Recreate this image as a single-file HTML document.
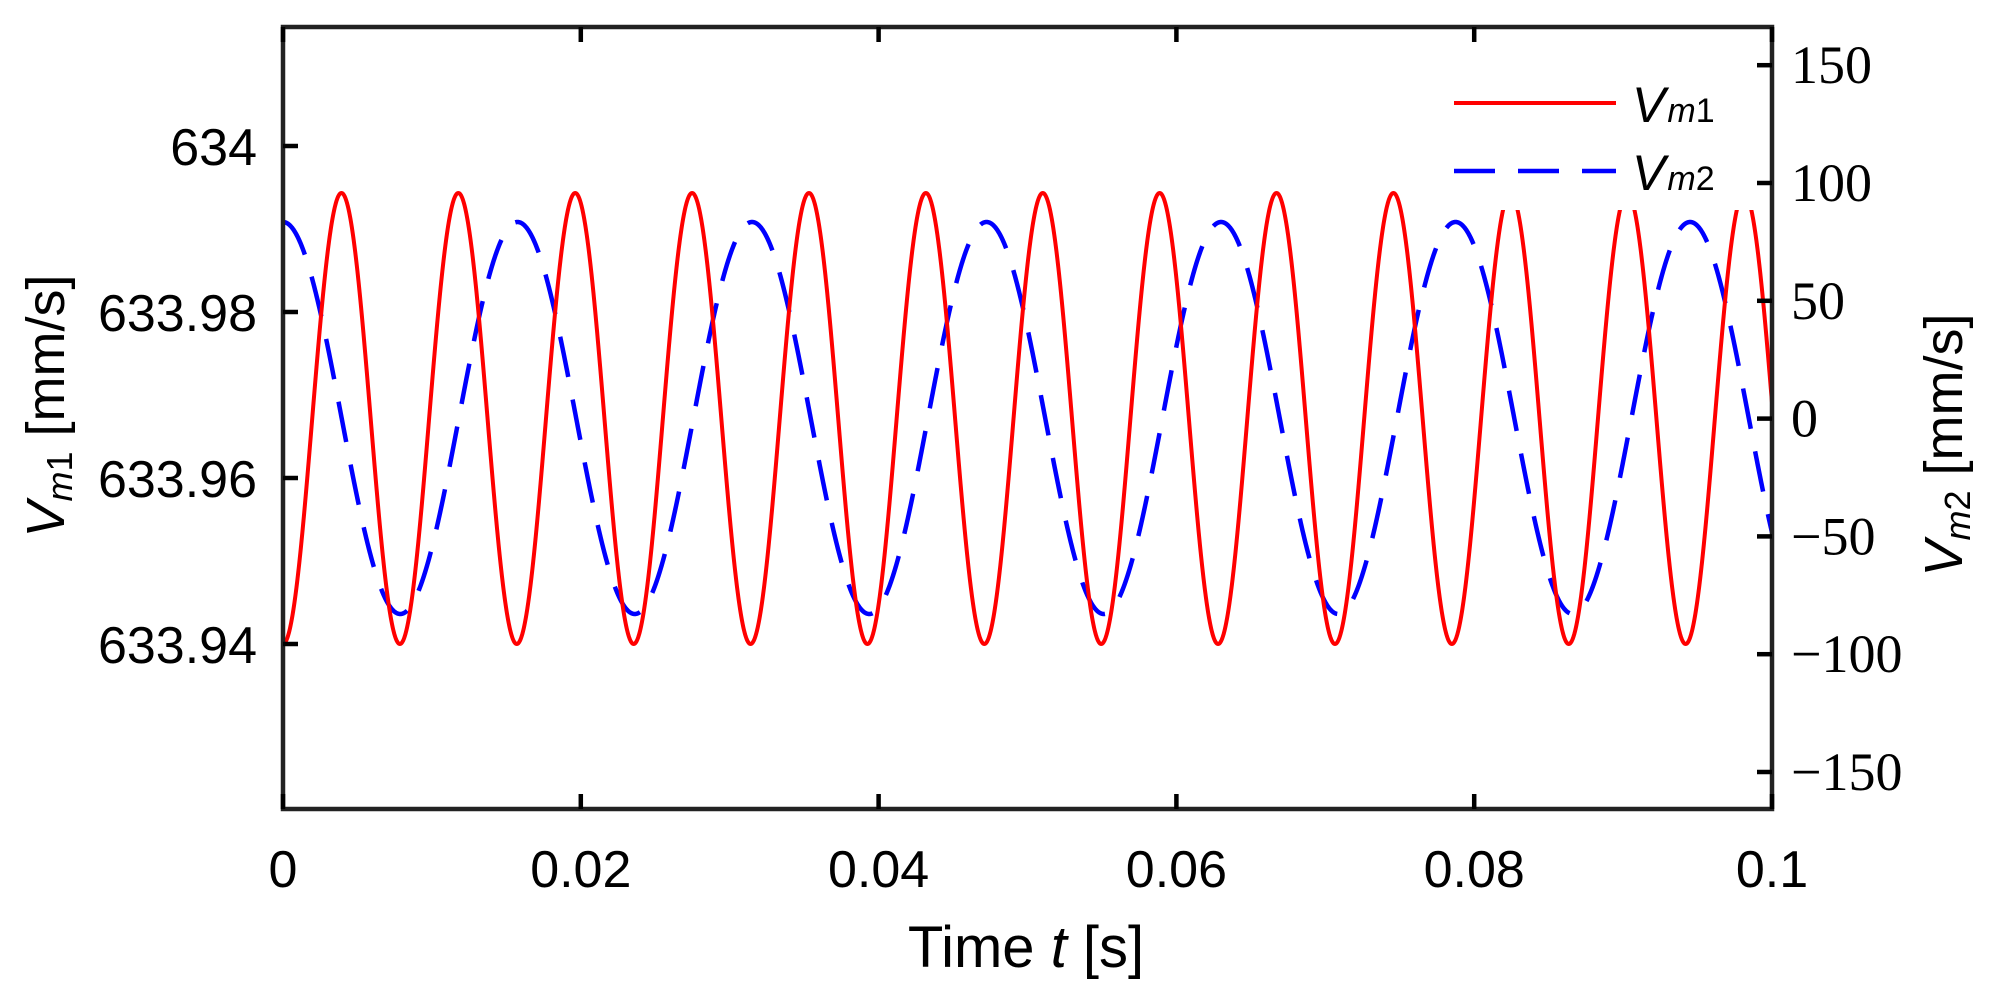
<!DOCTYPE html>
<html><head><meta charset="utf-8"><style>
html,body{margin:0;padding:0;background:#fff;}
svg{display:block;}
text{font-family:"Liberation Sans",sans-serif;fill:#000;}
.s{font-family:"Liberation Serif",serif;}
</style></head><body>
<svg id="c" width="1992" height="993" viewBox="0 0 1992 993" xmlns="http://www.w3.org/2000/svg">
<defs><clipPath id="cp"><rect x="283" y="27" width="1489" height="782"/></clipPath></defs>
<g clip-path="url(#cp)">
<path id="blue" fill="none" stroke="#0000ff" stroke-width="4.5" stroke-dasharray="41,23"/>
<path id="red" fill="none" stroke="#ff0000" stroke-width="4"/>
</g>
<rect x="1440" y="30" width="328" height="180" fill="#fff"/>
<line x1="1454" y1="103" x2="1616" y2="103" stroke="#ff0000" stroke-width="4"/>
<line x1="1454" y1="171" x2="1616" y2="171" stroke="#0000ff" stroke-width="4.5" stroke-dasharray="41,23"/>
<text x="1632" y="122" font-size="50" font-style="italic">V<tspan font-size="34" dx="2">m</tspan><tspan font-size="34" font-style="normal">1</tspan></text>
<text x="1632" y="190" font-size="50" font-style="italic">V<tspan font-size="34" dx="2">m</tspan><tspan font-size="34" font-style="normal">2</tspan></text>
<g id="axes" stroke="#000" stroke-width="4.5" fill="none">
<rect x="283" y="27" width="1489" height="782" stroke="#222"/>
</g>
<g id="labels"></g>
<text x="1026" y="967" font-size="58" text-anchor="middle">Time <tspan font-style="italic">t</tspan> [s]</text>
<text transform="translate(64,406) rotate(-90)" font-size="54" text-anchor="middle"><tspan font-style="italic">V</tspan><tspan font-size="36" dy="8" font-style="italic">m</tspan><tspan font-size="36">1</tspan><tspan dy="-8"> [mm/s]</tspan></text>
<text transform="translate(1962,445) rotate(-90)" font-size="54" text-anchor="middle"><tspan font-style="italic">V</tspan><tspan font-size="36" dy="8" font-style="italic">m</tspan><tspan font-size="36">2</tspan><tspan dy="-8"> [mm/s]</tspan></text>
</svg>
<script>
var X0=283,X1=1772;
function px(t){return X0+(X1-X0)*t/0.1;}
var r="",b="";
for(var i=0;i<=4000;i++){var t=0.1*i/4000;
var yr=418.5+225.5*Math.cos(2*Math.PI*t/0.00785);
var yb=418-196*Math.cos(2*Math.PI*t/0.01575);
r+=(i?"L":"M")+px(t).toFixed(2)+" "+yr.toFixed(2);
b+=(i?"L":"M")+px(t).toFixed(2)+" "+yb.toFixed(2);}
document.getElementById("red").setAttribute("d",r);
document.getElementById("blue").setAttribute("d",b);
var ns="http://www.w3.org/2000/svg",ax=document.getElementById("axes"),lb=document.getElementById("labels");
function ln(a,b,c,d){var e=document.createElementNS(ns,"line");e.setAttribute("x1",a);e.setAttribute("y1",b);e.setAttribute("x2",c);e.setAttribute("y2",d);ax.appendChild(e);}
function tx(x,y,s,anc,cls,fs){var e=document.createElementNS(ns,"text");e.setAttribute("x",x);e.setAttribute("y",y);e.setAttribute("font-size",fs);e.setAttribute("text-anchor",anc);if(cls)e.setAttribute("class",cls);e.textContent=s;lb.appendChild(e);}
var xl=["0","0.02","0.04","0.06","0.08","0.1"];
for(var k=0;k<6;k++){var x=X0+k*(X1-X0)/5;ln(x,809,x,794);ln(x,27,x,42);tx(x,887,xl[k],"middle","",52);}
var yl=["634","633.98","633.96","633.94"];
for(var k=0;k<4;k++){var y=146+k*166;ln(283,y,298,y);tx(257,y+19,yl[k],"end","",52);}
var rl=[150,100,50,0,-50,-100,-150];
for(var k=0;k<7;k++){var v=rl[k],y=418.6-v*2.356;ln(1772,y,1757,y);tx(1791,y+18,(v<0?"\u2212":"")+Math.abs(v),"start","s",54);}
</script>
</body></html>
